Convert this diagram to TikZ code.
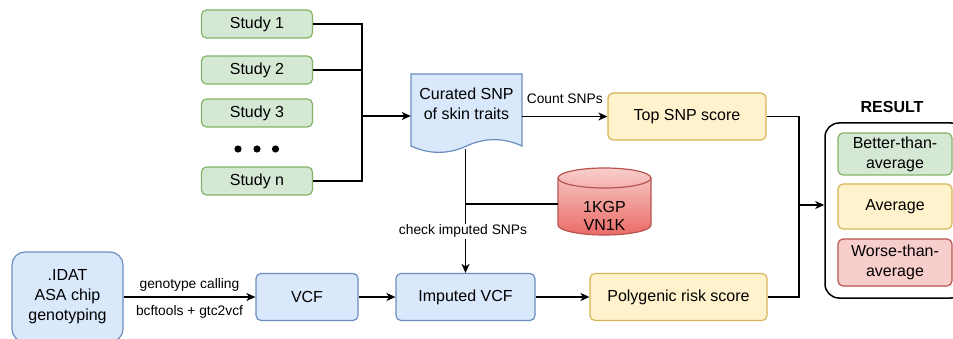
\documentclass[tikz,border=0pt]{standalone}
\usepackage{fontspec}
\setmainfont{Liberation Sans}
\usetikzlibrary{arrows.meta,calc}
\definecolor{bfill}{HTML}{DAE8FC}\definecolor{bline}{HTML}{6C8EBF}
\definecolor{gfill}{HTML}{D5E8D4}\definecolor{gline}{HTML}{82B366}
\definecolor{yfill}{HTML}{FFF2CC}\definecolor{yline}{HTML}{D6B656}
\definecolor{rfill}{HTML}{F8CECC}\definecolor{rline}{HTML}{B85450}
\definecolor{rdark}{HTML}{EA6B66}
\tikzset{
  box/.style={draw, rounded corners=5pt, line width=1.2pt, align=center, inner sep=0pt,
    font=\fontsize{16}{20}\selectfont},
  bluebox/.style={box, fill=bfill, draw=bline},
  greenbox/.style={box, fill=gfill, draw=gline},
  yelbox/.style={box, fill=yfill, draw=yline},
  redbox/.style={box, fill=rfill, draw=rline},
  conn/.style={line width=1.4pt},
  arr/.style={line width=1.4pt, -{Stealth[length=9pt,width=8pt,inset=2.5pt]}},
  lab/.style={font=\fontsize{13.8}{16}\selectfont, inner sep=1pt, anchor=base},
}
\begin{document}
\begin{tikzpicture}[x=1pt,y=-1pt]
\useasboundingbox (0,0) rectangle (953,339);

% studies
\node[greenbox, minimum width=111pt, minimum height=28pt] (s1) at (257,24) {Study 1};
\node[greenbox, minimum width=111pt, minimum height=28pt] (s2) at (257,70) {Study 2};
\node[greenbox, minimum width=111pt, minimum height=28pt] (s3) at (257,113) {Study 3};
\node[greenbox, minimum width=111pt, minimum height=28pt] (sn) at (257,181) {Study n};
\fill (238,149) circle[radius=3.6pt] (257,149) circle[radius=3.6pt] (275.5,149) circle[radius=3.6pt];

% document shape
\draw[line width=1.2pt, draw=bline, fill=bfill]
  (411,74) -- (522,74) -- (522,146)
  .. controls (503.5,137.5) and (485,137.5) .. (466.5,146)
  .. controls (448,154.5) and (429.5,154.5) .. (411,146) -- cycle;
\node[align=center, font=\fontsize{16}{20}\selectfont, minimum width=111pt, inner sep=0pt] (doc) at (466.5,104) {Curated SNP\\of skin traits};
\coordinate (docb) at (465.5,149);

% top SNP score
\node[yelbox, minimum width=158pt, minimum height=47pt] (top) at (687,116.5) {Top SNP score};

% database cylinder
\shade[top color=rfill, bottom color=rdark, draw=rline, line width=1.2pt]
  (558,178) -- (558,225) arc[start angle=180, end angle=360, x radius=46.5pt, y radius=10pt]
  -- (651,225) -- (651,178) arc[start angle=0, end angle=180, x radius=46.5pt, y radius=10pt] -- cycle;
\draw[draw=rline, line width=1.2pt] (558,178) arc[start angle=180, end angle=360, x radius=46.5pt, y radius=10pt];
\node[minimum width=93pt, minimum height=60pt, inner sep=0pt] (db) at (604.5,204) {};
\node[align=center, font=\fontsize{16}{18.5}\selectfont, inner sep=0pt] (dbt) at (604.5,216) {1KGP\\VN1K};

% bottom row
\node[bluebox, rounded corners=13pt, minimum width=111pt, minimum height=90pt] (idat) at (67.5,297) {.IDAT\\ASA chip\\genotyping};
\node[bluebox, minimum width=102pt, minimum height=47pt] (vcf) at (307,297) {VCF};
\node[bluebox, minimum width=139pt, minimum height=47pt] (imp) at (465.5,297) {Imputed VCF};
\node[yelbox, minimum width=177pt, minimum height=47pt] (poly) at (678.5,297) {Polygenic risk score};

% result
\node[draw, line width=1.5pt, rounded corners=14pt, minimum width=140pt, minimum height=175pt] (res) at (895,210.5) {};
\node[font=\fontsize{16}{20}\selectfont\bfseries, inner sep=0pt] (rlab) at (892,107) {RESULT};
\node[greenbox, minimum width=114pt, minimum height=42pt] (better) at (895,154) {Better-than-\\average};
\node[yelbox, minimum width=114pt, minimum height=45pt] (avg) at (895,206.5) {Average};
\node[redbox, minimum width=114pt, minimum height=47pt] (worse) at (895,262.5) {Worse-than-\\average};

% connectors: studies -> document
\coordinate (j1) at (362,116);
\draw[conn] (s1.east) -| (j1);
\draw[conn] (s2.east) -| (j1);
\draw[conn] (sn.east) -| (j1);
\draw[arr] (j1) -- (doc.west |- j1);

% document -> top SNP
\draw[arr] (top.west -| doc.east) -- (top.west)
  node[lab, midway, yshift=13pt] (cnt) {Count SNPs};

% document -> imputed VCF
\draw[arr] (docb) -- (imp.north);
\draw[conn] (db.west) -- (db.west -| docb);
\node[lab, fill=white] (chk) at (463,235) {check imputed SNPs};

% bottom row arrows
\draw[arr] (idat.east |- vcf.west) -- (vcf.west)
  node[lab, midway, yshift=9pt] (gc) {genotype calling}
  node[lab, midway, yshift=-18pt] (bt) {bcftools + gtc2vcf};
\draw[arr] (vcf.east) -- (imp.west);
\draw[arr] (imp.east) -- (poly.west);

% scores -> result
\coordinate (j2) at (799,205);
\draw[conn] (top.east) -| (j2);
\draw[conn] (poly.east) -| (j2);
\draw[arr] (j2) -- (res.west |- j2);
\end{tikzpicture}
\end{document}
